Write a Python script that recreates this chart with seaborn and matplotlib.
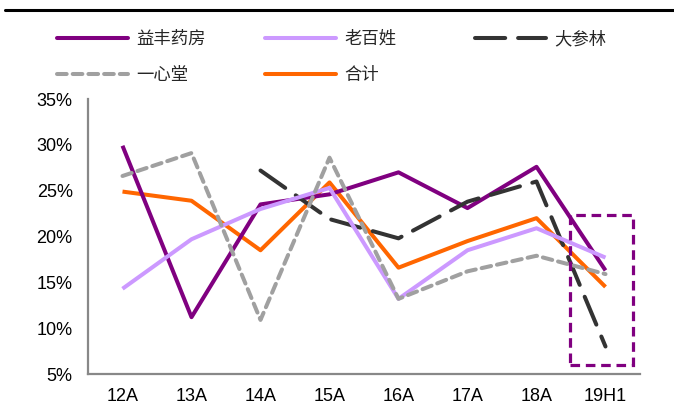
import numpy as np
import pandas as pd
import matplotlib
matplotlib.use("Agg")
import matplotlib.pyplot as plt
import seaborn as sns
from matplotlib.lines import Line2D
from matplotlib.patches import Rectangle

categories = ["12A", "13A", "14A", "15A", "16A", "17A", "18A", "19H1"]
yifeng = [29.9, 11.2, 23.5, 24.6, 27.0, 23.1, 27.6, 16.3]
laobaixing = [14.3, 19.7, 23.0, 25.3, 13.2, 18.5, 20.9, 17.7]
dashenlin = [np.nan, np.nan, 27.2, 21.9, 19.8, 23.8, 26.0, 8.0]
yixintang = [26.6, 29.1, 10.9, 28.6, 13.2, 16.2, 17.9, 15.9]
heji = [24.9, 23.9, 18.5, 25.9, 16.6, 19.5, 22.0, 14.5]
yticks = [5, 10, 15, 20, 25, 30, 35]

sns.set_theme(style="white")
plt.rcParams['font.family'] = ['Liberation Sans', 'Noto Sans CJK SC', 'DejaVu Sans']

fig = plt.figure(figsize=(6.74, 4.19), dpi=100)
ax = fig.add_axes([88/674, 1 - 374/419, 552/674, 275/419])

x = np.arange(len(categories))
lw = 2.9
series = [
    ("益丰药房", yifeng, "#800080", None),
    ("老百姓", laobaixing, "#CC99FF", None),
    ("大参林", dashenlin, "#333333", (7.5, 3.2)),
    ("一心堂", yixintang, "#A0A0A0", (2.4, 1.5)),
    ("合计", heji, "#FF6600", None),
]
order = [1, 3, 2, 4, 0]
handles = {}
for idx, (name, vals, color, dash) in enumerate(series):
    df = pd.DataFrame({"x": x, "y": vals})
    sns.lineplot(data=df, x="x", y="y", ax=ax, color=color, linewidth=lw,
                 zorder=3 + order[idx])
    line = ax.get_lines()[-1]
    if dash is not None:
        line.set_dashes(dash)
        line.set_dash_capstyle("round")
    line.set_solid_capstyle("butt")
    h = Line2D([], [], color=color, linewidth=lw)
    if dash is not None:
        h.set_dashes(dash)
        h.set_dash_capstyle("round")
    else:
        h.set_solid_capstyle("round")
    handles[name] = h

ax.set_xlim(-0.5, len(categories) - 0.5)
ax.set_ylim(5, 35)
ax.set_yticks(yticks)
ax.set_yticklabels([f"{v}%" for v in yticks])
ax.set_xticks(x)
ax.set_xticklabels(categories)
ax.set_xticks(np.arange(-0.5, len(categories) + 0.5, 1), minor=True)
ax.tick_params(axis="x", which="major", length=0, pad=10, labelsize=13, labelcolor="black")
ax.tick_params(axis="x", which="minor", length=4, direction="in", color="#888888", width=1.4)
ax.tick_params(axis="y", which="major", length=4, direction="in", color="#888888", width=1.4,
               labelsize=13, pad=11, labelcolor="black")
ax.set_xlabel("")
ax.set_ylabel("")
for s in ["top", "right"]:
    ax.spines[s].set_visible(False)
for s in ["left", "bottom"]:
    ax.spines[s].set_color("#888888")
    ax.spines[s].set_linewidth(1.6)

# highlight box around 19H1
rect = Rectangle((6.49, 6.0), 0.91, 16.35, fill=False, edgecolor="#800080",
                 linewidth=2.3, linestyle=(0, (3, 1.8)), zorder=10, clip_on=False)
ax.add_patch(rect)

# legend in three columns
cols = [(["益丰药房", "一心堂"], 57), (["老百姓", "合计"], 265), (["大参林"], 475)]
for names, xpix in cols:
    fig.legend([handles[n] for n in names], names, ncol=1,
               loc="upper left", bbox_to_anchor=(xpix/674, 1 - 30/419), frameon=False,
               borderpad=0, borderaxespad=0,
               handlelength=4.1, handletextpad=0.45,
               labelspacing=1.05, prop={"family": ["Noto Sans CJK SC", "DejaVu Sans"], "size": 12.5})

# top rule
fig.add_artist(Line2D([5/674, 1.0], [1 - 10/419, 1 - 10/419], color="black", linewidth=2.2))

fig.savefig("out.png", dpi=100)
